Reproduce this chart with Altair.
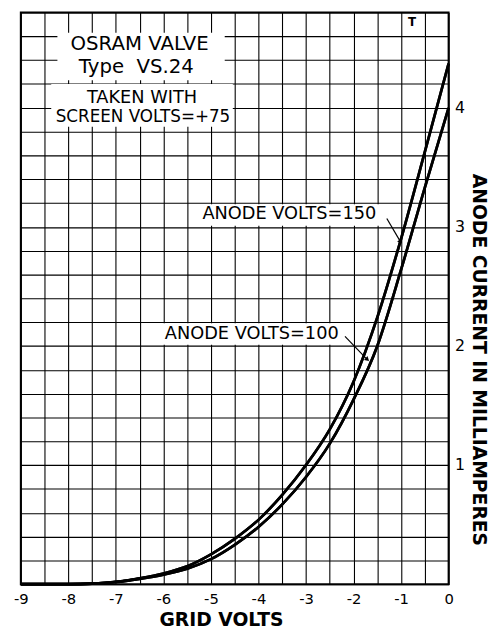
import altair as alt
import pandas as pd

# ---- data ----
grid_volts = [-9, -8.5, -8, -7.5, -7, -6.5, -6, -5.5, -5, -4.5, -4, -3.5, -3,
              -2.5, -2, -1.5, -1, -0.5, 0]
anode150_ma = [0, 0, 0, 0.005, 0.02, 0.05, 0.09, 0.15, 0.25, 0.38, 0.54, 0.75,
               1.0, 1.30, 1.70, 2.24, 2.90, 3.63, 4.37]
anode100_ma = [0, 0, 0, 0.004, 0.018, 0.045, 0.08, 0.13, 0.21, 0.33, 0.48, 0.67,
               0.9, 1.18, 1.55, 2.0, 2.64, 3.33, 4.0]
series_names = ["ANODE VOLTS=150", "ANODE VOLTS=100"]

x_ticks = [round(-9 + 0.5 * i, 1) for i in range(19)]
y_ticks = [round(0.2 * i, 1) for i in range(25)]

rows = []
for name, vals in zip(series_names, [anode150_ma, anode100_ma]):
    for v, i in zip(grid_volts, vals):
        rows.append({"volts": v, "ma": i, "series": name})
df = pd.DataFrame(rows)

FONT = "DejaVu Sans"
xs = alt.Scale(domain=[-9, 0], nice=False, zero=False)
ys = alt.Scale(domain=[0, 4.8], nice=False, zero=False)

ax_x = alt.Axis(
    values=x_ticks, grid=True, ticks=False, domain=False,
    labelExpr="datum.value % 1 == 0 ? toString(datum.value) : ''",
    labelFont=FONT, labelFontSize=15, labelColor="black", labelPadding=8,
    labelFlush=False, labelOverlap=False,
    gridColor="black", gridWidth=1.1, gridOpacity=1,
    title="GRID VOLTS", titleFont=FONT, titleFontSize=19,
    titleFontWeight="bold", titleColor="black",
    titleX=203, titleY=36, titleAlign="center", titleBaseline="middle")
ax_y = alt.Axis(
    orient="right", values=y_ticks, grid=True, ticks=False, domain=False,
    labelExpr="datum.value > 0 && datum.value % 1 == 0 ? toString(datum.value) : ''",
    labelFont=FONT, labelFontSize=16, labelColor="black", labelPadding=6,
    labelAlign="left", labelOverlap=False, labelFlush=False,
    gridColor="black", gridWidth=1.1, gridOpacity=1,
    title="ANODE CURRENT IN MILLIAMPERES", titleFont=FONT, titleFontSize=19,
    titleFontWeight="bold", titleColor="black", titleAngle=90,
    titleX=30, titleY=352, titleAlign="center", titleBaseline="middle")

lines = alt.Chart(df).mark_line(color="black", strokeWidth=2.7,
                                interpolate="monotone").encode(
    x=alt.X("volts:Q", scale=xs, axis=ax_x),
    y=alt.Y("ma:Q", scale=ys, axis=ax_y),
    detail="series:N",
)


def box(x1, x2, y1, y2):
    return alt.Chart().mark_rect(fill="white", stroke=None).encode(
        x=alt.XDatum(x1, scale=xs, axis=ax_x), x2=alt.X2Datum(x2),
        y=alt.YDatum(y1, scale=ys, axis=ax_y), y2=alt.Y2Datum(y2))


def label(text, x, y, size, align="center", weight="normal"):
    return alt.Chart().mark_text(text=text, font=FONT, fontSize=size, align=align,
                                 baseline="middle", color="black",
                                 fontWeight=weight).encode(
        x=alt.XDatum(x, scale=xs, axis=ax_x), y=alt.YDatum(y, scale=ys, axis=ax_y))


def arrow(x1, y1, x2, y2, ang):
    r = alt.Chart().mark_rule(color="black", strokeWidth=1.2).encode(
        x=alt.XDatum(x1, scale=xs, axis=ax_x), x2=alt.X2Datum(x2),
        y=alt.YDatum(y1, scale=ys, axis=ax_y), y2=alt.Y2Datum(y2))
    h = alt.Chart().mark_point(shape="triangle", filled=True, color="black",
                               size=28, angle=ang, opacity=1).encode(
        x=alt.XDatum(x2, scale=xs, axis=ax_x), y=alt.YDatum(y2, scale=ys, axis=ax_y))
    return r + h


chart = alt.layer(
    lines,
    box(-8.23, -4.71, 4.63, 4.23),
    box(-8.36, -4.54, 4.20, 3.84),
    box(-5.40, -1.22, 3.19, 3.01),
    box(-6.12, -2.18, 2.19, 2.01),
    lines,
    label("OSRAM VALVE", -6.50, 4.535, 20),
    label("Type\u00a0\u00a0VS.24", -6.57, 4.34, 20),
    label("TAKEN WITH", -6.45, 4.08, 18),
    label("SCREEN VOLTS=+75", -6.43, 3.92, 17),
    label("T", -0.77, 4.72, 12, weight="bold"),
    label(series_names[0], -5.18, 3.11, 18, align="left"),
    label(series_names[1], -5.97, 2.10, 18, align="left"),
    arrow(-1.30, 3.07, -1.02, 2.88, 145),
    arrow(-2.18, 2.08, -1.72, 1.89, 132),
).properties(
    width=434, height=580,
    autosize=alt.AutoSizeParams(type="none"),
    padding={"left": 13, "top": 0, "right": 42, "bottom": 45},
).configure_view(stroke="black", strokeWidth=2)

chart.save("out.html", embed_options={"renderer": "svg", "actions": False})
